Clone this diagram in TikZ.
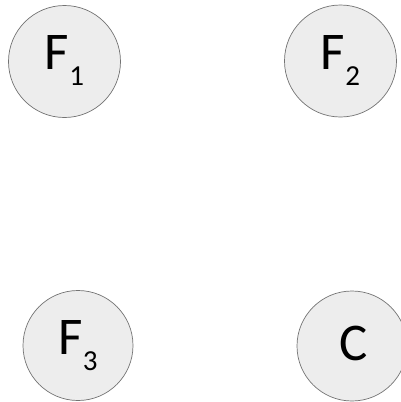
\documentclass[tikz,border=0pt]{standalone}
\usepackage{fontspec}
\setmainfont{Carlito}
\tikzset{
  circ/.style={circle, draw=black!55, fill=black!7, line width=0.7bp, minimum size=112bp, inner sep=0pt},
  lbl/.style={font=\fontsize{53bp}{55bp}\selectfont, inner sep=0pt}
}
\newcommand{\subnum}[1]{\raisebox{-16bp}{\fontsize{29bp}{31bp}\selectfont #1}}
\begin{document}
\begin{tikzpicture}[x=1bp,y=-1bp]
\useasboundingbox (0,0) rectangle (401,402);
\node[circ] (f1) at (64.5,61.5) {};
\node[circ] (f2) at (340.5,61) {};
\node[circ, minimum size=110bp] (f3) at (78,345.5) {};
\node[circ, minimum size=110bp] (c) at (352,346) {};
\node[lbl, anchor=base] (t1) at (64.5,69) {F\subnum{1}};
\node[lbl, anchor=base] (t2) at (340.5,69) {F\subnum{2}};
\node[lbl, anchor=base] (t3) at (78,354) {F\subnum{3}};
\node[lbl, anchor=base] (tc) at (354,360) {C};
\end{tikzpicture}
\end{document}
